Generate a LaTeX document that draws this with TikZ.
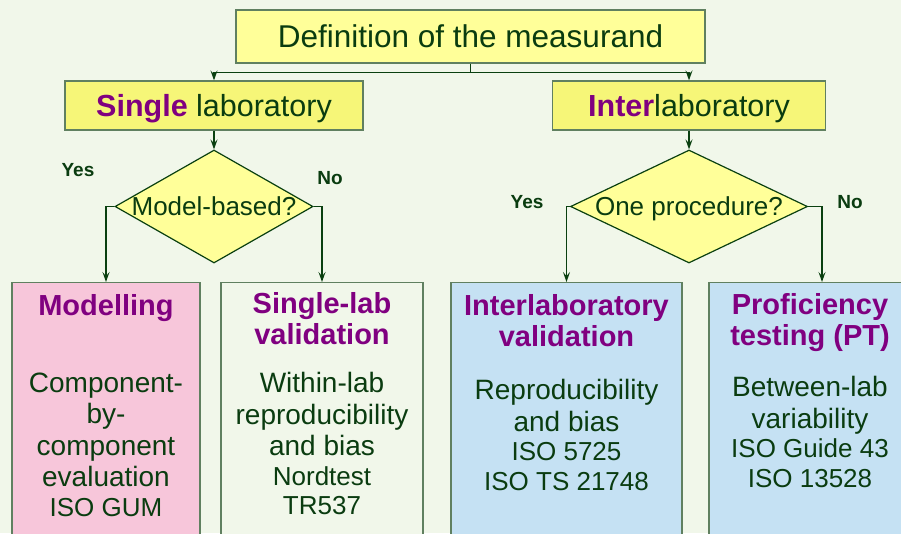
\documentclass[tikz,border=0pt]{standalone}
\usepackage{fontspec}
\setmainfont{Liberation Sans}
\usetikzlibrary{positioning,shapes.geometric,arrows.meta}

\definecolor{paper}{RGB}{241,247,234}
\definecolor{ink}{RGB}{10,60,16}
\definecolor{wire}{RGB}{10,64,16}
\definecolor{frame}{RGB}{96,128,96}
\definecolor{plum}{RGB}{128,0,128}
\definecolor{cream}{RGB}{255,255,153}
\definecolor{lemon}{RGB}{246,246,120}
\definecolor{rose}{RGB}{247,198,218}
\definecolor{sky}{RGB}{197,225,243}

% card fonts; word space fixed to the font's own width
\newcommand{\fixspace}{\spaceskip=\fontdimen2\font\xspaceskip=\fontdimen2\font}
\newcommand{\cardtitle}{\color{plum}\bfseries\fontsize{29}{31}\selectfont\fixspace}
\newcommand{\cardbody}{\fontsize{28}{31.5}\selectfont\fixspace}
\newcommand{\cardstd}{\fontsize{26}{29.5}\selectfont\fixspace}

\begin{document}
\begin{tikzpicture}[x=1pt,y=-1pt]
        \tikzset{
            box/.style={draw=frame, line width=1.2pt, text=ink, inner sep=0pt},
            headbox/.style={box, fill=cream, minimum width=469pt, minimum height=53pt,
                font=\fontsize{31.5}{36}\selectfont},
            labbox/.style={box, fill=lemon, minimum height=49pt, text depth=0pt,
                font=\fontsize{30.5}{34}\selectfont},
            question/.style={diamond, draw=wire, line width=1.2pt, fill=cream, text=ink,
                inner sep=0pt, minimum height=113pt, text depth=0pt,
                font=\fontsize{26}{30}\selectfont},
            answer/.style={text=ink, inner sep=0pt, font=\bfseries\fontsize{19}{22}\selectfont},
            card/.style={box, anchor=north, minimum height=290pt},
            cardtext/.style={text=ink, inner sep=0pt, align=center},
            link/.style={draw=wire, line width=1.5pt},
            arrow/.style={link, -{Stealth[length=10pt,width=7pt,inset=4pt]}}
        }

        \useasboundingbox (0,0) rectangle (901,533);
        \clip (0,0) rectangle (901,533);
        \fill[paper] (0,0) rectangle (901,533);

        \node[headbox] (defn) at (470.5,36.5) {Definition of the measurand};

        \node[labbox, minimum width=298pt] (single) at (214,105.5)
            {{\color{plum}\bfseries Single} laboratory};
        \node[labbox, minimum width=273pt] (inter) at (689,105.5)
            {{\color{plum}\bfseries Inter}laboratory};

        \node[question, minimum width=198pt] (model) at (214,206.5)
            {\makebox[0pt]{Model-based?}};
        \node[question, minimum width=237pt] (oneproc) at (689,206.5)
            {\makebox[0pt]{One procedure?}};

        \node[answer] (yesmodel) at (78,170) {Yes};
        \node[answer] (nomodel) at (330,178) {No};
        \node[answer] (yesproc) at (527,202) {Yes};
        \node[answer] (noproc) at (850,202) {No};

        % method boxes, cut off by the page edge
        \node[card, fill=rose, minimum width=188pt] (modelling) at (106,282) {};
        \node[card, fill=paper, minimum width=202pt] (slv) at (322,282) {};
        \node[card, fill=sky, minimum width=231pt] (ilv) at (566.5,282) {};
        \node[card, fill=sky, minimum width=202pt] (pt) at (810,282) {};

        \node[cardtext, text width=188pt, below=12pt of modelling.north] (modellingtext) {%
            {\cardtitle Modelling\par}\vspace{45.5pt}%
            {\cardbody Component-\\by-\\component\\evaluation\par}%
            {\cardstd ISO GUM\par}};
        \node[cardtext, text width=202pt, below=10pt of slv.north] (slvtext) {%
            {\cardtitle Single-lab\\validation\par}\vspace{17pt}%
            {\cardbody Within-lab\\reproducibility\\and bias\par}%
            {\cardstd Nordtest\\TR537\par}};
        \node[cardtext, text width=231pt, below=12pt of ilv.north] (ilvtext) {%
            {\cardtitle Interlaboratory\\validation\par}\vspace{22pt}%
            {\cardbody Reproducibility\\and bias\par}%
            {\cardstd ISO 5725\\ISO TS 21748\par}};
        \node[cardtext, text width=202pt, below=11pt of pt.north] (pttext) {%
            {\cardtitle Proficiency\\testing (PT)\par}\vspace{20pt}%
            {\cardbody Between-lab\\variability\par}%
            {\cardstd ISO Guide 43\\ISO 13528\par}};

        \draw[link] (defn.south) -- ++(0,9) coordinate (fork);
        \draw[arrow] (fork) -| (single.north);
        \draw[arrow] (fork) -| (inter.north);
        \draw[arrow] (single) -- (model);
        \draw[arrow] (inter) -- (oneproc);
        \draw[arrow] (model.west) -| (modelling.north);
        \draw[arrow] (model.east) -| (slv.north);
        \draw[arrow] (oneproc.west) -| (ilv.north);
        \draw[arrow] (oneproc.east) -| ([xshift=12pt]pt.north);
    \end{tikzpicture}
\end{document}
